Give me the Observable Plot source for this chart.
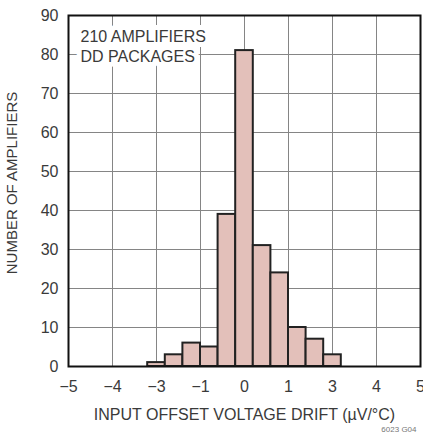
<!DOCTYPE html>
<html>
<head>
<meta charset="utf-8">
<script src="https://cdn.jsdelivr.net/npm/d3@7"></script>
<script src="https://cdn.jsdelivr.net/npm/@observablehq/plot@0.6"></script>
<style>
  html, body { margin: 0; padding: 0; background: white; }
  svg { display: block; }
</style>
</head>
<body>
<div id="chart"></div>
<script>
// Bin edges in grid-position units (each gridline step = one labelled tick)
const binStart = [-2.2, -1.8, -1.4, -1.0, -0.6, -0.2, 0.2, 0.6, 1.0, 1.4, 1.8];
const binEnd   = [-1.8, -1.4, -1.0, -0.6, -0.2, 0.2, 0.6, 1.0, 1.4, 1.8, 2.2];
const counts   = [1, 3, 6, 5, 39, 81, 31, 24, 10, 7, 3];

const xTickPos    = [-4, -3, -2, -1, 0, 1, 2, 3, 4];
const xTickLabels = ["−5", "−4", "−3", "−1", "0", "1", "3", "4", "5"];
const yTicks      = [0, 10, 20, 30, 40, 50, 60, 70, 80, 90];

const annotation = ["210 AMPLIFIERS\nDD PACKAGES"];
const xTitle = ["INPUT OFFSET VOLTAGE DRIFT (µV/°C)"];
const yTitle = ["NUMBER OF AMPLIFIERS"];
const caption = ["6023 G04"];

const bins = binStart.map((s, i) => ({x1: s, x2: binEnd[i], n: counts[i]}));

const textColor = "#3a3a3a";
const font = "'Liberation Sans', Arial, sans-serif";

const chart = Plot.plot({
  width: 423,
  height: 437,
  marginLeft: 68,
  marginRight: 3,
  marginTop: 15,
  marginBottom: 71,
  style: {fontFamily: font, fontSize: "16px", color: textColor, background: "white"},
  x: {domain: [-4, 4]},
  y: {domain: [0, 90]},
  marks: [
    Plot.gridX(xTickPos, {stroke: "#858585", strokeOpacity: 1, strokeWidth: 1}),
    Plot.gridY(yTicks, {stroke: "#858585", strokeOpacity: 1, strokeWidth: 1}),
    Plot.rectY(bins, {x1: "x1", x2: "x2", y: "n", fill: "#e3c0ba", stroke: "#222", strokeWidth: 2}),
    Plot.text(annotation, {
      frameAnchor: "top-left", textAnchor: "start", lineAnchor: "top",
      dx: 12, dy: 12.6, lineHeight: 1.25, fontSize: 16,
      fill: textColor, stroke: "white", strokeWidth: 10, strokeLinejoin: "round"
    }),
    Plot.axisX(xTickPos, {
      tickSize: 0, tickPadding: 14, fontSize: 16,
      tickFormat: (d) => xTickLabels[xTickPos.indexOf(d)],
      label: null
    }),
    Plot.axisY(yTicks, {
      tickSize: 0, tickPadding: 10, fontSize: 16, label: null
    }),
    Plot.text(xTitle, {
      frameAnchor: "bottom", textAnchor: "middle", lineAnchor: "bottom",
      dy: 53, fontSize: 16, fill: textColor, letterSpacing: "-0.8px"
    }),
    Plot.text(yTitle, {
      frameAnchor: "left", rotate: -90, textAnchor: "middle", lineAnchor: "top",
      dx: -62, dy: -8, fontSize: 15, fill: textColor
    }),
    Plot.text(caption, {
      frameAnchor: "bottom-right", textAnchor: "end", lineAnchor: "bottom",
      dx: -4, dy: 65, fontSize: 8, fill: "#777"
    }),
    Plot.frame({stroke: "#111", strokeWidth: 2})
  ]
});

document.getElementById("chart").appendChild(chart);
</script>
</body>
</html>
